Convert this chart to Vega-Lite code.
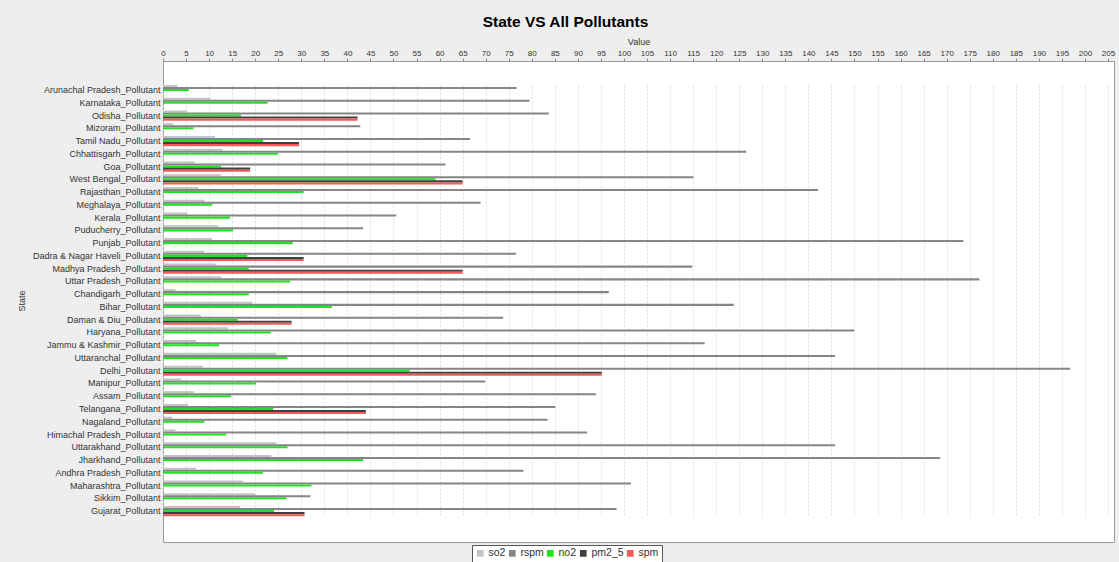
{
  "$schema": "https://vega.github.io/schema/vega-lite/v6.json",
  "width": 951,
  "height": 481,
  "autosize": {"type": "none"},
  "padding": {"left": 163, "top": 61, "right": 5, "bottom": 20},
  "background": "#eeeeee",
  "title": {
    "text": "State VS All Pollutants",
    "font": "Liberation Sans",
    "fontSize": 15.5,
    "fontWeight": "bold",
    "color": "#000000",
    "anchor": "middle",
    "dx": -73,
    "offset": 7
  },
  "data": {
    "values": [
      {"state": "Arunachal Pradesh_Pollutant", "pollutant": "so2", "value": 3.1},
      {"state": "Arunachal Pradesh_Pollutant", "pollutant": "rspm", "value": 76.7},
      {"state": "Arunachal Pradesh_Pollutant", "pollutant": "no2", "value": 5.6},
      {"state": "Karnataka_Pollutant", "pollutant": "so2", "value": 10.3},
      {"state": "Karnataka_Pollutant", "pollutant": "rspm", "value": 79.5},
      {"state": "Karnataka_Pollutant", "pollutant": "no2", "value": 22.7},
      {"state": "Odisha_Pollutant", "pollutant": "so2", "value": 5.3},
      {"state": "Odisha_Pollutant", "pollutant": "rspm", "value": 83.7},
      {"state": "Odisha_Pollutant", "pollutant": "no2", "value": 16.9},
      {"state": "Odisha_Pollutant", "pollutant": "pm2_5", "value": 42.2},
      {"state": "Odisha_Pollutant", "pollutant": "spm", "value": 42.2},
      {"state": "Mizoram_Pollutant", "pollutant": "so2", "value": 2.2},
      {"state": "Mizoram_Pollutant", "pollutant": "rspm", "value": 42.8},
      {"state": "Mizoram_Pollutant", "pollutant": "no2", "value": 6.6},
      {"state": "Tamil Nadu_Pollutant", "pollutant": "so2", "value": 11.3},
      {"state": "Tamil Nadu_Pollutant", "pollutant": "rspm", "value": 66.6},
      {"state": "Tamil Nadu_Pollutant", "pollutant": "no2", "value": 21.7},
      {"state": "Tamil Nadu_Pollutant", "pollutant": "pm2_5", "value": 29.5},
      {"state": "Tamil Nadu_Pollutant", "pollutant": "spm", "value": 29.5},
      {"state": "Chhattisgarh_Pollutant", "pollutant": "so2", "value": 12.9},
      {"state": "Chhattisgarh_Pollutant", "pollutant": "rspm", "value": 126.5},
      {"state": "Chhattisgarh_Pollutant", "pollutant": "no2", "value": 24.9},
      {"state": "Goa_Pollutant", "pollutant": "so2", "value": 6.9},
      {"state": "Goa_Pollutant", "pollutant": "rspm", "value": 61.3},
      {"state": "Goa_Pollutant", "pollutant": "no2", "value": 12.6},
      {"state": "Goa_Pollutant", "pollutant": "pm2_5", "value": 18.9},
      {"state": "Goa_Pollutant", "pollutant": "spm", "value": 18.9},
      {"state": "West Bengal_Pollutant", "pollutant": "so2", "value": 12.6},
      {"state": "West Bengal_Pollutant", "pollutant": "rspm", "value": 115.1},
      {"state": "West Bengal_Pollutant", "pollutant": "no2", "value": 59.1},
      {"state": "West Bengal_Pollutant", "pollutant": "pm2_5", "value": 65.0},
      {"state": "West Bengal_Pollutant", "pollutant": "spm", "value": 65.0},
      {"state": "Rajasthan_Pollutant", "pollutant": "so2", "value": 7.7},
      {"state": "Rajasthan_Pollutant", "pollutant": "rspm", "value": 142.1},
      {"state": "Rajasthan_Pollutant", "pollutant": "no2", "value": 30.5},
      {"state": "Meghalaya_Pollutant", "pollutant": "so2", "value": 9.0},
      {"state": "Meghalaya_Pollutant", "pollutant": "rspm", "value": 68.9},
      {"state": "Meghalaya_Pollutant", "pollutant": "no2", "value": 10.7},
      {"state": "Kerala_Pollutant", "pollutant": "so2", "value": 5.3},
      {"state": "Kerala_Pollutant", "pollutant": "rspm", "value": 50.6},
      {"state": "Kerala_Pollutant", "pollutant": "no2", "value": 14.5},
      {"state": "Puducherry_Pollutant", "pollutant": "so2", "value": 12.0},
      {"state": "Puducherry_Pollutant", "pollutant": "rspm", "value": 43.4},
      {"state": "Puducherry_Pollutant", "pollutant": "no2", "value": 15.2},
      {"state": "Punjab_Pollutant", "pollutant": "so2", "value": 10.6},
      {"state": "Punjab_Pollutant", "pollutant": "rspm", "value": 173.6},
      {"state": "Punjab_Pollutant", "pollutant": "no2", "value": 28.1},
      {"state": "Dadra & Nagar Haveli_Pollutant", "pollutant": "so2", "value": 8.9},
      {"state": "Dadra & Nagar Haveli_Pollutant", "pollutant": "rspm", "value": 76.6},
      {"state": "Dadra & Nagar Haveli_Pollutant", "pollutant": "no2", "value": 18.3},
      {"state": "Dadra & Nagar Haveli_Pollutant", "pollutant": "pm2_5", "value": 30.5},
      {"state": "Dadra & Nagar Haveli_Pollutant", "pollutant": "spm", "value": 30.5},
      {"state": "Madhya Pradesh_Pollutant", "pollutant": "so2", "value": 11.6},
      {"state": "Madhya Pradesh_Pollutant", "pollutant": "rspm", "value": 114.8},
      {"state": "Madhya Pradesh_Pollutant", "pollutant": "no2", "value": 18.6},
      {"state": "Madhya Pradesh_Pollutant", "pollutant": "pm2_5", "value": 65.0},
      {"state": "Madhya Pradesh_Pollutant", "pollutant": "spm", "value": 65.0},
      {"state": "Uttar Pradesh_Pollutant", "pollutant": "so2", "value": 12.6},
      {"state": "Uttar Pradesh_Pollutant", "pollutant": "rspm", "value": 177.1},
      {"state": "Uttar Pradesh_Pollutant", "pollutant": "no2", "value": 27.6},
      {"state": "Chandigarh_Pollutant", "pollutant": "so2", "value": 2.7},
      {"state": "Chandigarh_Pollutant", "pollutant": "rspm", "value": 96.7},
      {"state": "Chandigarh_Pollutant", "pollutant": "no2", "value": 18.6},
      {"state": "Bihar_Pollutant", "pollutant": "so2", "value": 19.4},
      {"state": "Bihar_Pollutant", "pollutant": "rspm", "value": 123.8},
      {"state": "Bihar_Pollutant", "pollutant": "no2", "value": 36.6},
      {"state": "Daman & Diu_Pollutant", "pollutant": "so2", "value": 8.2},
      {"state": "Daman & Diu_Pollutant", "pollutant": "rspm", "value": 73.8},
      {"state": "Daman & Diu_Pollutant", "pollutant": "no2", "value": 16.2},
      {"state": "Daman & Diu_Pollutant", "pollutant": "pm2_5", "value": 27.9},
      {"state": "Daman & Diu_Pollutant", "pollutant": "spm", "value": 27.9},
      {"state": "Haryana_Pollutant", "pollutant": "so2", "value": 14.1},
      {"state": "Haryana_Pollutant", "pollutant": "rspm", "value": 149.9},
      {"state": "Haryana_Pollutant", "pollutant": "no2", "value": 23.4},
      {"state": "Jammu & Kashmir_Pollutant", "pollutant": "so2", "value": 7.2},
      {"state": "Jammu & Kashmir_Pollutant", "pollutant": "rspm", "value": 117.5},
      {"state": "Jammu & Kashmir_Pollutant", "pollutant": "no2", "value": 12.2},
      {"state": "Uttaranchal_Pollutant", "pollutant": "so2", "value": 24.6},
      {"state": "Uttaranchal_Pollutant", "pollutant": "rspm", "value": 145.8},
      {"state": "Uttaranchal_Pollutant", "pollutant": "no2", "value": 27.0},
      {"state": "Delhi_Pollutant", "pollutant": "so2", "value": 8.7},
      {"state": "Delhi_Pollutant", "pollutant": "rspm", "value": 196.8},
      {"state": "Delhi_Pollutant", "pollutant": "no2", "value": 53.5},
      {"state": "Delhi_Pollutant", "pollutant": "pm2_5", "value": 95.2},
      {"state": "Delhi_Pollutant", "pollutant": "spm", "value": 95.2},
      {"state": "Manipur_Pollutant", "pollutant": "so2", "value": 3.9},
      {"state": "Manipur_Pollutant", "pollutant": "rspm", "value": 69.9},
      {"state": "Manipur_Pollutant", "pollutant": "no2", "value": 20.2},
      {"state": "Assam_Pollutant", "pollutant": "so2", "value": 6.7},
      {"state": "Assam_Pollutant", "pollutant": "rspm", "value": 93.9},
      {"state": "Assam_Pollutant", "pollutant": "no2", "value": 14.8},
      {"state": "Telangana_Pollutant", "pollutant": "so2", "value": 5.4},
      {"state": "Telangana_Pollutant", "pollutant": "rspm", "value": 85.1},
      {"state": "Telangana_Pollutant", "pollutant": "no2", "value": 23.9},
      {"state": "Telangana_Pollutant", "pollutant": "pm2_5", "value": 44.0},
      {"state": "Telangana_Pollutant", "pollutant": "spm", "value": 44.0},
      {"state": "Nagaland_Pollutant", "pollutant": "so2", "value": 2.0},
      {"state": "Nagaland_Pollutant", "pollutant": "rspm", "value": 83.4},
      {"state": "Nagaland_Pollutant", "pollutant": "no2", "value": 9.0},
      {"state": "Himachal Pradesh_Pollutant", "pollutant": "so2", "value": 2.7},
      {"state": "Himachal Pradesh_Pollutant", "pollutant": "rspm", "value": 92.0},
      {"state": "Himachal Pradesh_Pollutant", "pollutant": "no2", "value": 13.7},
      {"state": "Uttarakhand_Pollutant", "pollutant": "so2", "value": 24.6},
      {"state": "Uttarakhand_Pollutant", "pollutant": "rspm", "value": 145.8},
      {"state": "Uttarakhand_Pollutant", "pollutant": "no2", "value": 27.0},
      {"state": "Jharkhand_Pollutant", "pollutant": "so2", "value": 23.5},
      {"state": "Jharkhand_Pollutant", "pollutant": "rspm", "value": 168.6},
      {"state": "Jharkhand_Pollutant", "pollutant": "no2", "value": 43.4},
      {"state": "Andhra Pradesh_Pollutant", "pollutant": "so2", "value": 7.2},
      {"state": "Andhra Pradesh_Pollutant", "pollutant": "rspm", "value": 78.2},
      {"state": "Andhra Pradesh_Pollutant", "pollutant": "no2", "value": 21.7},
      {"state": "Maharashtra_Pollutant", "pollutant": "so2", "value": 17.4},
      {"state": "Maharashtra_Pollutant", "pollutant": "rspm", "value": 101.5},
      {"state": "Maharashtra_Pollutant", "pollutant": "no2", "value": 32.2},
      {"state": "Sikkim_Pollutant", "pollutant": "so2", "value": 19.9},
      {"state": "Sikkim_Pollutant", "pollutant": "rspm", "value": 32.0},
      {"state": "Sikkim_Pollutant", "pollutant": "no2", "value": 26.8},
      {"state": "Gujarat_Pollutant", "pollutant": "so2", "value": 16.7},
      {"state": "Gujarat_Pollutant", "pollutant": "rspm", "value": 98.4},
      {"state": "Gujarat_Pollutant", "pollutant": "no2", "value": 24.1},
      {"state": "Gujarat_Pollutant", "pollutant": "pm2_5", "value": 30.7},
      {"state": "Gujarat_Pollutant", "pollutant": "spm", "value": 30.7}
    ]
  },
  "mark": {"type": "bar"},
  "encoding": {
    "y": {
      "field": "state",
      "type": "nominal",
      "sort": null,
      "scale": {"paddingInner": 0.2, "paddingOuter": 0, "range": [23.9, 455.2]},
      "axis": {
        "title": "State",
        "titleFont": "Liberation Sans",
        "titleFontSize": 9,
        "titleFontWeight": "normal",
        "titleColor": "#333333",
        "titlePadding": 6,
        "labelFont": "Liberation Sans",
        "labelFontSize": 9,
        "labelColor": "#333333",
        "labelPadding": 3,
        "ticks": false,
        "domain": false,
        "grid": false
      }
    },
    "yOffset": {
      "field": "pollutant",
      "type": "nominal",
      "sort": ["so2", "rspm", "no2", "pm2_5", "spm"],
      "scale": {"paddingInner": 0, "paddingOuter": 0}
    },
    "x": {
      "field": "value",
      "type": "quantitative",
      "scale": {"domain": [0, 206.3], "nice": false, "zero": true},
      "axis": {
        "orient": "top",
        "title": "Value",
        "titleFont": "Liberation Sans",
        "titleFontSize": 9,
        "titleFontWeight": "normal",
        "titleColor": "#333333",
        "titlePadding": 3,
        "labelFont": "Liberation Sans",
        "labelFontSize": 8,
        "labelColor": "#333333",
        "labelPadding": 1,
        "labelFlush": false,
        "labelOverlap": false,
        "values": [0,5,10,15,20,25,30,35,40,45,50,55,60,65,70,75,80,85,90,95,100,105,110,115,120,125,130,135,140,145,150,155,160,165,170,175,180,185,190,195,200,205],
        "tickSize": 3,
        "tickColor": "#888888",
        "domainColor": "#999999",
        "grid": true,
        "gridColor": "#d4d4d4",
        "gridDash": [2, 2],
        "gridWidth": 0.8
      }
    },
    "color": {
      "field": "pollutant",
      "type": "nominal",
      "scale": {
        "domain": ["so2", "rspm", "no2", "pm2_5", "spm"],
        "range": ["#c4c4c4", "#858585", "#22e022", "#404040", "#f45a5a"]
      },
      "legend": {
        "title": null,
        "orient": "none",
        "legendX": 309,
        "legendY": 484,
        "direction": "horizontal",
        "columns": 5,
        "columnPadding": 1,
        "strokeColor": "#555555",
        "fillColor": "#ffffff",
        "padding": 3,
        "symbolType": "square",
        "symbolSize": 45,
        "symbolStrokeWidth": 0,
        "labelFont": "Liberation Sans",
        "labelFontSize": 10.5,
        "labelColor": "#333333",
        "labelOffset": 3
      }
    }
  },
  "config": {
    "view": {"fill": "#ffffff", "stroke": "#999999", "strokeWidth": 1}
  }
}
